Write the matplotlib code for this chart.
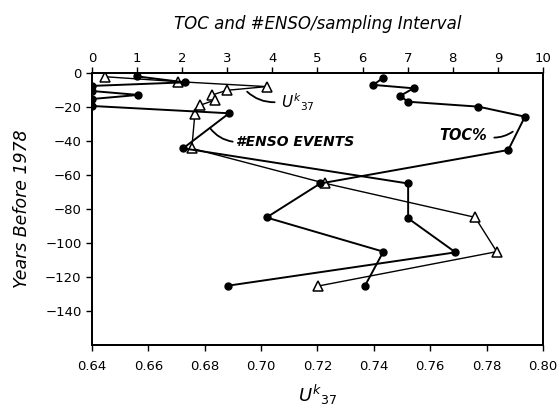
import matplotlib
matplotlib.use("Agg")
import matplotlib.pyplot as plt

# U^k37 (bottom axis)
uk_years = [-2.2, -5.1, -8.0, -10.2, -13.0, -15.9, -19.0, -24.0, -44.3, -64.9, -84.9, -105.1, -125.3]
uk37 = [0.6446, 0.6706, 0.702, 0.6878, 0.6825, 0.6836, 0.6783, 0.6765, 0.6754, 0.7227, 0.7759, 0.7836, 0.7203]

# #ENSO events per sampling interval (top axis)
enso_years = [-2.0, -5.5, -7.6, -10.6, -12.9, -15.3, -19.4, -23.7, -44.3, -65.0, -85.5, -105.5, -125.1]
enso = [1.0, 2.06, 0.0, 0.0, 1.03, 0.0, 0.0, 3.04, 2.02, 7.01, 7.01, 8.06, 3.02]

# TOC % (top axis)
toc_years = [-2.7, -7.0, -9.0, -13.5, -16.9, -19.8, -25.7, -45.3, -65.0, -85.0, -105.1, -125.3]
toc = [6.46, 6.24, 7.13, 6.83, 7.01, 8.57, 9.6, 9.23, 5.06, 3.87, 6.46, 6.05]

uk_ticks = [0.64, 0.66, 0.68, 0.70, 0.72, 0.74, 0.76, 0.78, 0.80]
top_ticks = list(range(0, 11))
year_ticks = [0, -20, -40, -60, -80, -100, -120, -140]

plt.rcParams['font.family'] = ['DejaVu Sans']

fig = plt.figure(figsize=(5.6, 4.11), dpi=100)
ax = fig.add_axes([0.1643, 0.1606, 0.8053, 0.6618])
ax2 = ax.twiny()

ax.plot(uk37, uk_years, color='black', lw=1.0, marker='^', ms=6.5,
        mfc='white', mec='black', mew=1.1, zorder=3)
ax2.plot(enso, enso_years, color='black', lw=1.4, marker='o', ms=5,
         mfc='black', mec='black', zorder=4)
ax2.plot(toc, toc_years, color='black', lw=1.4, marker='o', ms=5,
         mfc='black', mec='black', zorder=4)

ax.set_xlim(0.64, 0.80)
ax.set_ylim(-160, 0)
ax2.set_xlim(0, 10)

ax.set_xticks(uk_ticks)
ax.set_xticklabels(['%.2f' % t for t in uk_ticks])
ax.set_yticks(year_ticks)
ax2.set_xticks(top_ticks)

for a in (ax, ax2):
    a.tick_params(direction='out', length=4, width=1.0, labelsize=9.5, color='black')
    for s in a.spines.values():
        s.set_linewidth(1.3)
ax.tick_params(axis='x', pad=7)
ax2.tick_params(axis='x', pad=1.5)

ax.set_xlabel(r'$U^{k}{}_{37}$', fontsize=13, labelpad=7)
ax.set_ylabel('Years Before 1978', fontsize=12.5, style='italic', labelpad=10)
ax2.set_xlabel('TOC and #ENSO/sampling Interval', fontsize=12, style='italic',
               labelpad=17)

# leader labels
leader = dict(arrowstyle='-', lw=1.3, color='black', shrinkA=0, shrinkB=0)

ax2.text(4.2, -17.5, r'$U^{k}{}_{37}$', fontsize=11, va='center', ha='left')
ax2.annotate('', xy=(3.44, -11.0), xytext=(4.05, -17.2),
             arrowprops=dict(leader, connectionstyle='arc3,rad=-0.2'))

ax2.text(3.2, -40.5, '#ENSO EVENTS', fontsize=10, style='italic',
         fontweight='bold', va='center', ha='left')
ax2.annotate('', xy=(2.62, -32.5), xytext=(3.12, -40.4),
             arrowprops=dict(leader, connectionstyle='arc3,rad=-0.2'))

ax2.text(8.76, -37.0, 'TOC%', fontsize=10.5, style='italic',
         fontweight='bold', va='center', ha='right')
ax2.annotate('', xy=(9.33, -34.5), xytext=(8.92, -38.0),
             arrowprops=dict(leader, connectionstyle='arc3,rad=0.15'))

fig.savefig('out.png', dpi=100)
